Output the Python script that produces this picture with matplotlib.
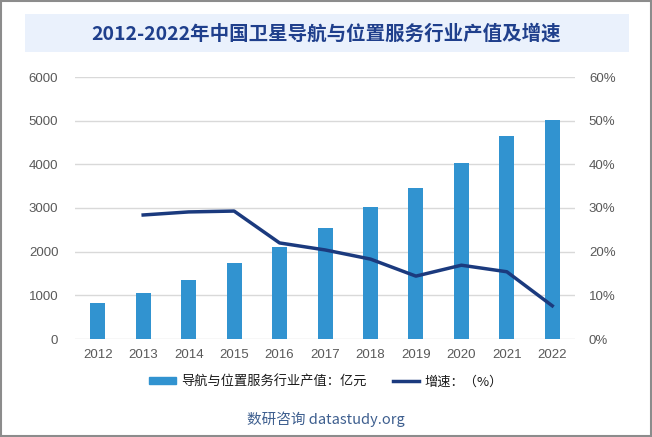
import matplotlib.pyplot as plt
from matplotlib.patches import Rectangle
from matplotlib.lines import Line2D
import numpy as np

plt.rcParams['font.family'] = ['Noto Sans CJK SC', 'DejaVu Sans']

# data
years = ['2012', '2013', '2014', '2015', '2016', '2017', '2018', '2019', '2020', '2021', '2022']
output = [814, 1047, 1349, 1735, 2118, 2550, 3016, 3450, 4023, 4640, 5005]   # 亿元
growth = [np.nan, 28.4, 29.1, 29.3, 22.0, 20.4, 18.3, 14.4, 16.9, 15.4, 7.6]  # %

bar_color = '#3193D0'
line_color = '#1B3A7E'
tick_color = '#595959'

fig = plt.figure(figsize=(6.52, 4.37), dpi=100)

# outer border
fig.patches.append(Rectangle((0.0015, 0.002), 0.997, 0.996, transform=fig.transFigure,
                             fill=False, edgecolor='#8C8C8C', linewidth=1.5))
# title band
fig.patches.append(Rectangle((25/652, 1-52/437), 604/652, 38/437, transform=fig.transFigure,
                             facecolor='#EAF1FC', edgecolor='none'))
fig.text(0.5, 1-34/437, '2012-2022年中国卫星导航与位置服务行业产值及增速',
         ha='center', va='center', fontsize=14, fontweight='bold', color='#1F3F8C')

ax = fig.add_axes([75/652, 1-339/437, 500/652, 262/437])
x = np.arange(len(years))
ax.bar(x, output, width=0.33, color=bar_color, zorder=3)
ax.set_ylim(0, 6000)
ax.set_yticks(range(0, 6001, 1000))
ax.set_xlim(-0.5, len(years)-0.5)
ax.set_xticks(x)
ax.set_xticklabels(years)
ax.grid(axis='y', color='#D9D9D9', linewidth=1, zorder=0)
for s in ax.spines.values():
    s.set_visible(False)
ax.tick_params(length=0, colors=tick_color, pad=7)
ax.tick_params(axis='y', pad=12)
for lab in ax.get_xticklabels() + ax.get_yticklabels():
    lab.set_fontfamily('Liberation Sans')
    lab.set_fontsize(9.5)

ax2 = ax.twinx()
ax2.plot(x, growth, color=line_color, linewidth=2.5, zorder=4)
ax2.set_ylim(0, 60)
ax2.set_yticks(range(0, 61, 10))
ax2.set_yticklabels([f'{v}%' for v in range(0, 61, 10)])
for s in ax2.spines.values():
    s.set_visible(False)
ax2.tick_params(length=0, colors=tick_color, pad=10)
for lab in ax2.get_yticklabels():
    lab.set_fontfamily('Liberation Sans')
    lab.set_fontsize(9.5)

handles = [Rectangle((0, 0), 1, 1, color=bar_color),
           Line2D([0], [0], color=line_color, linewidth=2.5)]
fig.legend(handles, ['导航与位置服务行业产值：亿元', '增速：（%）'],
           loc='center', bbox_to_anchor=(0.5, 1-382/437), ncol=2, frameon=False,
           fontsize=9.5, handlelength=2.0, handleheight=0.45, columnspacing=2.0,
           handletextpad=0.4, labelcolor='#1A1A1A')

fig.text(0.5, 1-419/437, '数研咨询 datastudy.org', ha='center', va='center',
         fontsize=10.5, color='#3E5F8F')

plt.savefig('out.png', dpi=100)
